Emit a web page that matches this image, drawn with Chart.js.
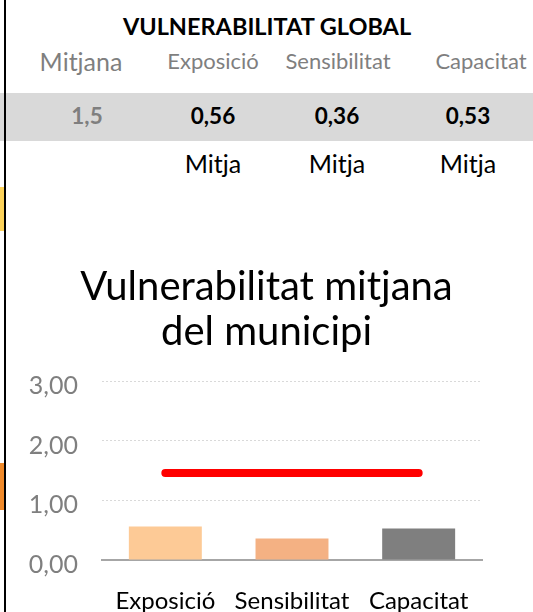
<!DOCTYPE html>
<html lang="ca">
<head>
<meta charset="utf-8">
<title>Vulnerabilitat global</title>
<script src="https://cdn.jsdelivr.net/npm/chart.js@4.4.1/dist/chart.umd.min.js"></script>
<style>
  html, body { margin: 0; padding: 0; background: #fff; }
  body { width: 533px; height: 612px; position: relative; overflow: hidden; font-family: Lato, "Open Sans", sans-serif; }
  .abs { position: absolute; white-space: nowrap; }
  .txt { height: 30px; line-height: 30px; transform: translateX(-50%); }
  #band { left: 0; top: 93px; width: 533px; height: 48px; background: #D9D9D9; }
  #rule { left: 4px; top: 0; width: 2px; height: 612px; background: #000; z-index: 3; }
  #markA { left: 0; top: 187px; width: 4px; height: 44px; background: #FDD35A; z-index: 3; }
  #markB { left: 0; top: 463px; width: 4px; height: 47px; background: #F08A2A; z-index: 3; }
  #chartBox { left: 0; top: 250px; width: 533px; height: 362px; }
</style>
</head>
<body>
<div id="band" class="abs"></div>
<div id="table"></div>
<div id="chartBox" class="abs"><canvas id="chart" width="533" height="362"></canvas></div>
<div id="rule" class="abs"></div>
<div id="markA" class="abs"></div>
<div id="markB" class="abs"></div>
<script>
// Summary values
const tableTitle = 'VULNERABILITAT GLOBAL';
const meanLabel = 'Mitjana';
const categories = ['Exposició', 'Sensibilitat', 'Capacitat'];
const componentValues = [0.56, 0.36, 0.53];
const meanValue = 1.46;
const levelLabels = ['Mitja', 'Mitja', 'Mitja'];
const chartTitle = ['Vulnerabilitat mitjana', 'del municipi'];
const yTickLabels = ['0,00', '1,00', '2,00', '3,00'];
const barColors = ['#FDCA96', '#F4B183', '#7F7F7F'];

const fmt = (v, d) => v.toFixed(d).replace('.', ',');

// Summary table above the chart
const table = document.getElementById('table');
function addText(text, cx, cy, style) {
  const el = document.createElement('div');
  el.className = 'abs txt';
  el.textContent = text;
  el.style.left = cx + 'px';
  el.style.top = (cy - 15) + 'px';
  Object.assign(el.style, style);
  table.appendChild(el);
}
const colX = [81, 213, 338, 481];
const valX = [87, 213, 337, 468];
addText(tableTitle, 267, 26, { fontWeight: '700', fontSize: '23.5px', color: '#000' });
addText(meanLabel, colX[0], 61, { fontSize: '25px', color: '#7F7F7F' });
categories.forEach((c, i) => addText(c, colX[i + 1], 61, { fontSize: '22px', color: '#7F7F7F' }));
addText(fmt(meanValue, 1), valX[0], 116, { fontWeight: '700', fontSize: '22.5px', color: '#7F7F7F' });
componentValues.forEach((v, i) => addText(fmt(v, 2), valX[i + 1], 116, { fontWeight: '700', fontSize: '22.5px', color: '#000' }));
levelLabels.forEach((t, i) => addText(t, valX[i + 1], 163, { fontSize: '25px', color: '#000' }));

// Chart: component bars with the municipal mean as a line
new Chart(document.getElementById('chart'), {
  data: {
    labels: categories,
    datasets: [
      {
        type: 'line',
        data: categories.map(() => meanValue),
        borderColor: '#FF0000',
        borderWidth: 8,
        borderCapStyle: 'round',
        pointRadius: 0,
        order: 0
      },
      {
        type: 'bar',
        data: componentValues,
        backgroundColor: barColors,
        categoryPercentage: 1,
        barPercentage: 0.576,
        order: 1
      }
    ]
  },
  options: {
    responsive: false,
    animation: false,
    layout: { padding: 0 },
    plugins: {
      legend: { display: false },
      tooltip: { enabled: false },
      title: {
        display: true,
        text: chartTitle,
        color: '#000',
        font: { family: 'Lato', size: 40, weight: 'normal', lineHeight: 45 / 40 },
        padding: { top: 15, bottom: 26 }
      }
    },
    scales: {
      x: {
        grid: { display: false, drawTicks: false },
        border: { display: true, color: '#A6A6A6', width: 2 },
        ticks: { color: '#000', font: { family: 'Lato', size: 24 }, padding: 27, maxRotation: 0 },
        afterFit: s => { s.height = 52; }
      },
      y: {
        min: 0,
        max: 3,
        ticks: {
          stepSize: 1,
          color: '#7F7F7F',
          font: { family: 'Lato', size: 25 },
          padding: 24,
          labelOffset: 5,
          callback: (v, i) => yTickLabels[i]
        },
        grid: {
          drawTicks: false,
          color: c => (c.tick && c.tick.value === 0 ? 'rgba(0,0,0,0)' : '#D9D9D9'),
          lineWidth: 1
        },
        border: { display: false, dash: [2, 2] },
        afterFit: s => { s.width = 102; }
      },
      // empty right-hand margin so the title stays centred on the full width
      yRight: {
        position: 'right',
        display: true,
        grid: { display: false, drawTicks: false },
        border: { display: false },
        ticks: { display: false },
        afterFit: s => { s.width = 51; }
      }
    }
  }
});
</script>
</body>
</html>
